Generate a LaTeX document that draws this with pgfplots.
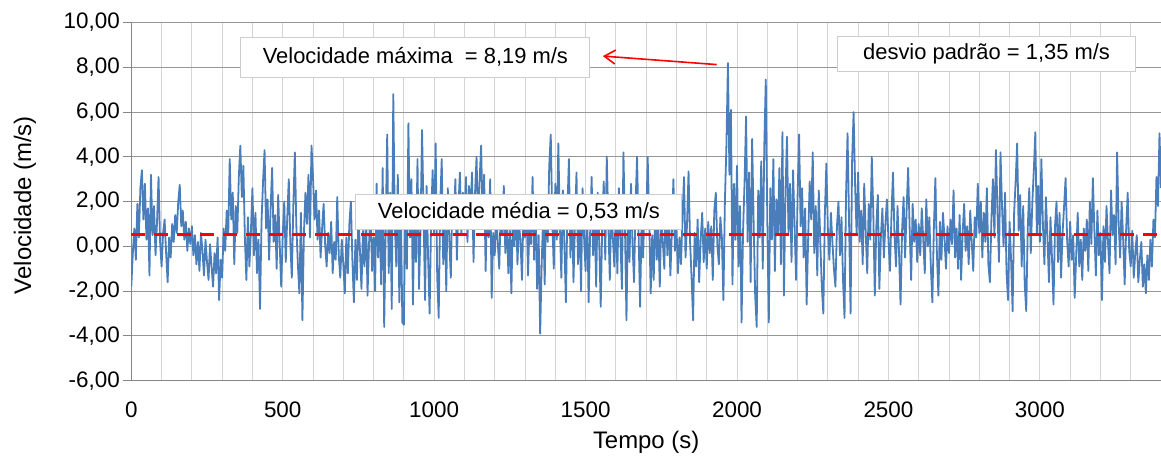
\documentclass[border=0pt]{standalone}
\usepackage{fontspec}
\setmainfont{Liberation Sans}
\usepackage{pgfplots}
\pgfplotsset{compat=1.18}
\usetikzlibrary{arrows.meta}
\definecolor{serie}{RGB}{74,126,187}
\definecolor{gridv}{RGB}{212,212,212}
\definecolor{gridh}{RGB}{150,150,150}
\definecolor{axisc}{RGB}{134,134,134}
\definecolor{boxc}{RGB}{205,205,205}
\begin{document}
\begin{tikzpicture}
\begin{axis}[
  scale only axis, width=1029.7bp, height=358.2bp,
  xmin=0, xmax=3400, ymin=-6, ymax=10,
  axis x line*=bottom, axis y line*=left,
  axis line style={axisc, line width=1bp},
  xtick={0,500,...,3000}, minor xtick={100,200,...,3400},
  ytick={-6,-4,...,10},
  xmajorgrids, xminorgrids, ymajorgrids,
  minor grid style={gridv, line width=1bp},
  major x grid style={gridv, line width=1bp},
  major y grid style={gridh, line width=1bp},
  tick align=outside,
  major tick length=8bp, minor tick length=0pt,
  xtick style={draw=none},
  ytick style={axisc, line width=1bp},
  /pgf/number format/assume math mode=true,
  x tick label style={font=\fontsize{22.5}{26}\selectfont, yshift=-10bp, /pgf/number format/1000 sep={}},
  y tick label style={font=\fontsize{22.5}{26}\selectfont, /pgf/number format/.cd, fixed, fixed zerofill, precision=2, use comma},
  xlabel={Tempo (s)},
  ylabel={Velocidade (m/s)},
  xlabel style={at={(axis description cs:0.5,0)}, anchor=north, inner sep=0pt, yshift=-50.7bp, font=\fontsize{24}{28}\selectfont},
  ylabel style={at={(axis description cs:-0.1032,0.49)}, anchor=center, inner sep=0pt, font=\fontsize{24}{28}\selectfont},
]
\addplot[serie, line width=1.8bp, line join=round] coordinates {
(0,-1.8)(5,-0.3)(10,0.8)(15,-0.6)(20,1.9)(25,0.4)(30,2.6)(35,3.4)(40,1.2)(45,2.8)(50,0.3)(55,1.7)(60,-1.3)(65,3.2)(70,0.5)(75,1.8)(80,-0.4)(85,1.1)(90,3.1)(95,0.2)
(100,-0.9)(105,0.6)(110,1.2)(115,-0.3)(120,-1.6)(125,0.4)(130,-0.5)(135,1.0)(140,0.2)(145,1.4)(150,0.6)(155,2.0)(160,2.75)(165,0.9)(170,1.6)(175,0.3)(180,1.1)(185,-0.2)(190,0.8)(195,0.1)
(200,0.9)(205,-0.4)(210,0.5)(215,-0.8)(220,0.2)(225,-1.1)(230,0.6)(235,-0.2)(240,-1.3)(245,0.3)(250,-0.7)(255,-1.5)(260,0.1)(265,-0.9)(270,-1.8)(275,-0.3)(280,-1.2)(285,0.4)(290,-2.4)(295,-0.6)
(300,-1.4)(305,0.8)(310,-0.2)(315,1.6)(320,0.5)(325,3.9)(330,1.2)(335,2.4)(340,-0.8)(345,1.8)(350,0.6)(355,3.1)(360,4.5)(365,2.2)(370,3.6)(375,0.4)(380,-1.5)(385,1.3)(390,-0.9)(395,0.7)
(400,2.6)(405,-0.4)(410,1.5)(415,-1.2)(420,0.3)(425,-2.8)(430,1.1)(435,2.9)(440,4.3)(445,0.8)(450,2.1)(455,-0.6)(460,1.7)(465,3.5)(470,0.2)(475,1.4)(480,-1.0)(485,2.3)(490,0.1)(495,-1.8)
(500,0.5)(505,2.0)(510,-0.7)(515,1.3)(520,3.0)(525,0.2)(530,-1.4)(535,1.8)(540,4.2)(545,0.9)(550,-0.8)(555,-2.1)(560,1.5)(565,-3.3)(570,0.6)(575,2.4)(580,1.0)(585,3.2)(590,0.4)(595,4.5)
(600,3.1)(605,1.2)(610,2.5)(615,0.3)(620,1.6)(625,-0.5)(630,0.8)(635,1.9)(640,0.1)(645,-0.9)(650,0.6)(655,-0.3)(660,1.1)(665,-1.2)(670,0.2)(675,-0.6)(680,2.2)(685,-0.4)(690,-1.4)(695,0.3)
(700,-0.8)(705,-2.1)(710,0.4)(715,-1.2)(720,1.0)(725,2.0)(730,-0.6)(735,-2.5)(740,0.3)(745,-1.5)(750,1.4)(755,-0.2)(760,-1.9)(765,0.7)(770,-0.9)(775,1.6)(780,-2.2)(785,0.1)(790,1.9)(795,-1.1)
(800,0.4)(805,-2.0)(810,2.8)(815,-0.5)(820,1.3)(825,-1.7)(830,3.5)(835,-3.6)(840,0.9)(845,5.0)(850,-1.2)(855,2.4)(860,-2.8)(865,6.8)(870,1.1)(875,-0.9)(880,3.2)(885,-2.5)(890,1.7)(895,-3.4)
(900,-3.5)(905,2.1)(910,-1.0)(915,5.5)(920,0.4)(925,3.0)(930,-2.6)(935,1.8)(940,-0.7)(945,3.9)(950,-1.9)(955,0.8)(960,5.2)(965,1.5)(970,-2.4)(975,2.7)(980,-0.5)(985,-3.0)(990,1.2)(995,3.4)
(1000,0.6)(1005,4.6)(1010,-1.3)(1015,-3.2)(1020,1.9)(1025,3.9)(1030,-0.8)(1035,1.5)(1040,-2.0)(1045,2.6)(1050,0.3)(1055,-1.4)(1060,2.2)(1065,0.9)(1070,3.0)(1075,-0.6)(1080,1.7)(1085,3.3)(1090,0.5)(1095,2.4)
(1100,1.2)(1105,3.1)(1110,0.2)(1115,2.7)(1120,1.5)(1125,3.3)(1130,-0.7)(1135,2.4)(1140,4.0)(1145,0.8)(1150,2.9)(1155,4.5)(1160,1.4)(1165,3.2)(1170,-1.1)(1175,2.2)(1180,0.4)(1185,3.0)(1190,-2.3)(1195,0.6)
(1200,-0.4)(1205,1.3)(1210,0.2)(1215,-1.0)(1220,1.8)(1225,0.5)(1230,2.7)(1235,-0.3)(1240,1.1)(1245,-1.2)(1250,0.7)(1255,-2.1)(1260,1.5)(1265,0.0)(1270,2.2)(1275,-0.8)(1280,1.0)(1285,0.3)(1290,-1.5)(1295,1.6)
(1300,0.4)(1305,2.0)(1310,-1.3)(1315,1.2)(1320,0.1)(1325,3.1)(1330,-0.6)(1335,1.8)(1340,-1.9)(1345,0.5)(1350,-3.9)(1355,-0.8)(1360,1.4)(1365,-1.7)(1370,2.3)(1375,0.2)(1380,3.6)(1385,5.0)(1390,1.2)(1395,-1.0)
(1400,2.8)(1405,0.3)(1410,4.6)(1415,1.0)(1420,-1.4)(1425,2.5)(1430,0.1)(1435,-2.5)(1440,1.7)(1445,3.9)(1450,-0.5)(1455,2.2)(1460,-1.6)(1465,1.0)(1470,3.3)(1475,-0.8)(1480,1.5)(1485,-2.0)(1490,2.6)(1495,0.4)
(1500,-1.1)(1505,1.9)(1510,-2.5)(1515,0.6)(1520,3.1)(1525,-0.4)(1530,1.3)(1535,-1.8)(1540,2.4)(1545,0.2)(1550,-2.7)(1555,1.0)(1560,2.9)(1565,-0.6)(1570,4.0)(1575,1.1)(1580,-1.5)(1585,2.0)(1590,0.4)(1595,-0.9)
(1600,1.7)(1605,-1.2)(1610,2.6)(1615,0.3)(1620,-1.9)(1625,4.2)(1630,0.9)(1635,-3.3)(1640,1.5)(1645,-0.7)(1650,2.8)(1655,0.1)(1660,-1.6)(1665,1.9)(1670,4.0)(1675,0.6)(1680,-2.7)(1685,1.2)(1690,-0.5)(1695,2.1)
(1700,0.8)(1705,4.0)(1710,1.3)(1715,-2.1)(1720,0.5)(1725,-1.5)(1730,1.9)(1735,-0.6)(1740,0.9)(1745,-1.8)(1750,1.4)(1755,0.2)(1760,-1.0)(1765,2.2)(1770,-0.4)(1775,1.1)(1780,-1.3)(1785,0.7)(1790,3.0)(1795,-0.2)
(1800,0.9)(1805,-1.2)(1810,0.4)(1815,-0.8)(1820,1.3)(1825,3.1)(1830,-0.5)(1835,1.0)(1840,3.35)(1845,0.2)(1850,-1.4)(1855,-3.3)(1860,0.6)(1865,-0.9)(1870,1.2)(1875,-1.6)(1880,0.3)(1885,1.5)(1890,-0.7)(1895,0.8)
(1900,-1.0)(1905,1.1)(1910,-0.3)(1915,0.9)(1920,-1.5)(1925,1.6)(1930,2.4)(1935,0.1)(1940,-0.8)(1945,1.3)(1950,0.4)(1955,-2.4)(1960,2.0)(1965,4.5)(1970,8.19)(1975,3.2)(1980,6.1)(1985,-1.7)(1990,2.8)(1995,0.3)
(2000,3.6)(2005,-0.9)(2010,1.8)(2015,-3.4)(2020,0.7)(2025,2.9)(2030,5.8)(2035,0.2)(2040,3.3)(2045,-1.6)(2050,4.8)(2055,1.0)(2060,-2.2)(2065,-3.6)(2070,2.5)(2075,0.4)(2080,3.8)(2085,-1.0)(2090,4.4)(2095,7.45)
(2100,1.2)(2105,-3.4)(2110,2.6)(2115,0.3)(2120,3.9)(2125,-1.1)(2130,2.1)(2135,0.6)(2140,3.5)(2145,-0.8)(2150,5.1)(2155,-2.2)(2160,2.4)(2165,4.9)(2170,0.5)(2175,2.8)(2180,-0.7)(2185,3.4)(2190,1.0)(2195,-1.5)
(2200,2.2)(2205,5.0)(2210,0.9)(2215,2.6)(2220,-0.5)(2225,1.7)(2230,-2.6)(2235,0.4)(2240,2.9)(2245,1.2)(2250,4.2)(2255,-0.3)(2260,1.8)(2265,-1.3)(2270,2.5)(2275,0.2)(2280,-1.8)(2285,-3.0)(2290,1.4)(2295,3.7)
(2300,0.8)(2305,-0.6)(2310,1.5)(2315,0.2)(2320,-1.0)(2325,-1.8)(2330,0.9)(2335,2.0)(2340,-0.4)(2345,1.3)(2350,-1.5)(2355,-3.2)(2360,2.3)(2365,5.05)(2370,1.1)(2375,-3.0)(2380,3.8)(2385,6.0)(2390,2.7)(2395,0.5)
(2400,3.3)(2405,0.2)(2410,1.6)(2415,-0.8)(2420,2.8)(2425,0.6)(2430,-1.2)(2435,1.9)(2440,0.3)(2445,4.0)(2450,1.5)(2455,-2.2)(2460,0.9)(2465,2.3)(2470,-1.9)(2475,0.4)(2480,1.7)(2485,-0.5)(2490,1.0)(2495,2.1)
(2500,0.3)(2505,-1.1)(2510,1.4)(2515,3.3)(2520,0.5)(2525,-0.9)(2530,1.8)(2535,-0.3)(2540,-2.6)(2545,0.7)(2550,2.2)(2555,-0.5)(2560,1.6)(2565,3.5)(2570,0.8)(2575,-1.5)(2580,1.9)(2585,0.2)(2590,1.2)(2595,-0.7)
(2600,1.0)(2605,-0.4)(2610,1.7)(2615,0.3)(2620,-1.2)(2625,2.1)(2630,0.0)(2635,1.3)(2640,-0.9)(2645,-2.5)(2650,0.8)(2655,3.05)(2660,-0.3)(2665,-2.2)(2670,1.1)(2675,-0.6)(2680,1.5)(2685,0.4)(2690,-1.0)(2695,0.9)
(2700,-0.3)(2705,1.2)(2710,0.1)(2715,2.5)(2720,-0.5)(2725,0.8)(2730,-1.0)(2735,1.4)(2740,-1.5)(2745,0.6)(2750,1.9)(2755,-0.2)(2760,0.9)(2765,-0.8)(2770,1.6)(2775,0.2)(2780,-1.1)(2785,1.3)(2790,0.4)(2795,2.8)
(2800,0.6)(2805,2.0)(2810,-0.5)(2815,1.5)(2820,0.2)(2825,2.6)(2830,-0.8)(2835,-1.6)(2840,1.2)(2845,3.0)(2850,0.4)(2855,4.3)(2860,1.6)(2865,-0.7)(2870,4.2)(2875,1.8)(2880,0.0)(2885,2.4)(2890,-1.2)(2895,-2.4)
(2900,1.1)(2905,-0.6)(2910,-2.9)(2915,1.5)(2920,2.9)(2925,4.6)(2930,0.7)(2935,2.3)(2940,-0.9)(2945,1.8)(2950,-1.7)(2955,-2.9)(2960,0.8)(2965,2.6)(2970,-0.3)(2975,1.9)(2980,3.4)(2985,5.1)(2990,0.6)(2995,2.7)
(3000,0.2)(3005,3.9)(3010,1.0)(3015,-0.8)(3020,2.2)(3025,0.4)(3030,-1.6)(3035,1.3)(3040,-0.5)(3045,-2.6)(3050,0.9)(3055,2.0)(3060,-0.7)(3065,1.5)(3070,-1.4)(3075,0.6)(3080,1.8)(3085,3.05)(3090,0.3)(3095,-0.9)
(3100,1.1)(3105,-0.6)(3110,0.5)(3115,-2.3)(3120,-0.4)(3125,1.5)(3130,-0.9)(3135,0.3)(3140,-1.5)(3145,0.8)(3150,-0.2)(3155,1.2)(3160,-1.1)(3165,2.0)(3170,0.1)(3175,3.05)(3180,0.7)(3185,-1.3)(3190,1.6)(3195,-0.4)
(3200,0.6)(3205,-2.4)(3210,0.9)(3215,-0.7)(3220,1.8)(3225,0.2)(3230,-1.2)(3235,2.5)(3240,0.5)(3245,1.4)(3250,-0.8)(3255,4.2)(3260,1.1)(3265,-0.5)(3270,2.0)(3275,0.3)(3280,-1.7)(3285,0.8)(3290,2.4)(3295,-0.2)
(3300,-0.9)(3305,0.7)(3310,-1.4)(3315,-0.3)(3320,0.5)(3325,-1.6)(3330,-0.6)(3335,0.2)(3340,-1.8)(3345,-0.8)(3350,-2.1)(3355,-0.4)(3360,-1.5)(3365,0.3)(3370,-0.9)(3375,1.2)(3380,0.4)(3385,3.1)(3390,1.8)(3395,5.05)(3400,2.6)
};
\addplot[red, line width=3bp, dash pattern=on 14bp off 9bp] coordinates {(0,0.53)(3400,0.53)};
\node[draw=boxc, fill=white, line width=1bp, minimum width=349bp, minimum height=40bp, inner sep=0pt, font=\fontsize{22}{26}\selectfont] at (axis cs:938,8.45) {Velocidade máxima\ \ = 8,19 m/s};
\node[draw=boxc, fill=white, line width=1bp, minimum width=298bp, minimum height=35bp, inner sep=0pt, font=\fontsize{22}{26}\selectfont] at (axis cs:2824,8.58) {desvio padrão = 1,35 m/s};
\node[draw=boxc, fill=white, line width=1bp, minimum width=326bp, minimum height=35bp, inner sep=0pt, font=\fontsize{22}{26}\selectfont] at (axis cs:1280,1.53) {Velocidade média = 0,53 m/s};
\draw[red, line width=1.6bp, -{Straight Barb[length=11bp,width=14bp]}] (axis cs:1933,8.12) -- (axis cs:1557,8.5);
\end{axis}
\pgfresetboundingbox
\useasboundingbox ([xshift=-131.3bp,yshift=-76.3bp]current axis.south west) rectangle ([yshift=22.5bp]current axis.north east);
\end{tikzpicture}
\end{document}
